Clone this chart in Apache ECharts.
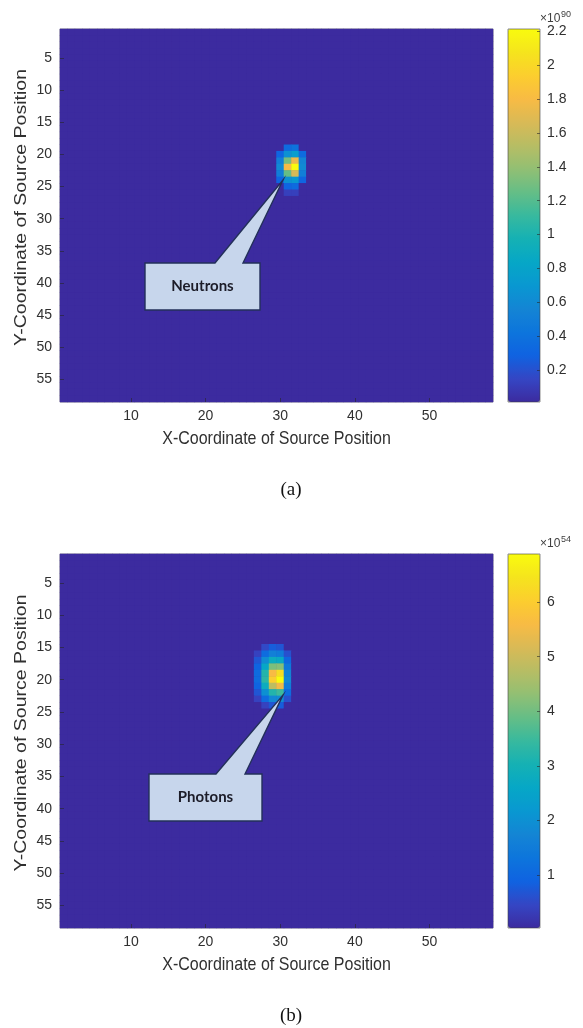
<!DOCTYPE html>
<html><head><meta charset="utf-8">
<script src="https://cdn.jsdelivr.net/npm/echarts@6/dist/echarts.min.js"></script>
<style>html,body{margin:0;padding:0;background:#fff;}#c{width:583px;height:1028px;}</style>
</head><body><div id="c"></div>
<script>
// ---------------- data ----------------
const gridSize = 58; // source positions per axis
const xTickLabels = [10, 20, 30, 40, 50];
const yTickLabels = [5, 10, 15, 20, 25, 30, 35, 40, 45, 50, 55];

// (a) Neutrons, values in units of 1e90
const neutronExponent = '90';
const neutronMin = 0.011;
const neutronMax = 2.214;
const neutronTicks = [0.2, 0.4, 0.6, 0.8, 1, 1.2, 1.4, 1.6, 1.8, 2, 2.2];
const neutronBackground = 0.011;
const neutronCells = [
  [31,19,0.35],[32,19,0.4],
  [30,20,0.3],[31,20,0.65],[32,20,0.75],[33,20,0.35],
  [30,21,0.5],[31,21,1.3],[32,21,1.75],[33,21,0.55],
  [30,22,0.6],[31,22,1.8],[32,22,2.214],[33,22,0.6],
  [30,23,0.5],[31,23,1.25],[32,23,1.65],[33,23,0.5],
  [30,24,0.3],[31,24,0.65],[32,24,0.7],[33,24,0.3],
  [31,25,0.3],[32,25,0.35],
  [31,26,0.12],[32,26,0.12]
];

// (b) Photons, values in units of 1e54
const photonExponent = '54';
const photonMin = 0.03;
const photonMax = 6.88;
const photonTicks = [1, 2, 3, 4, 5, 6];
const photonBackground = 0.03;
const photonCells = [
  [28,15,0.5],[29,15,0.8],[30,15,0.7],
  [27,16,0.4],[28,16,1.1],[29,16,1.6],[30,16,1.5],[31,16,0.6],
  [27,17,0.7],[28,17,1.9],[29,17,2.8],[30,17,2.7],[31,17,1.0],
  [27,18,0.9],[28,18,2.6],[29,18,4.1],[30,18,4.2],[31,18,1.4],
  [27,19,1.1],[28,19,3.2],[29,19,5.6],[30,19,6.3],[31,19,1.7],
  [27,20,1.1],[28,20,3.3],[29,20,6.0],[30,20,6.88],[31,20,1.8],
  [27,21,0.9],[28,21,2.8],[29,21,4.8],[30,21,5.5],[31,21,1.5],
  [27,22,0.7],[28,22,2.0],[29,22,3.2],[30,22,3.5],[31,22,1.1],
  [27,23,0.4],[28,23,1.1],[29,23,1.8],[30,23,1.9],[31,23,0.6],
  [28,24,0.4],[29,24,0.7],[30,24,0.8]
];

// parula colormap
const parula = ['#3c2b9f','#3546c4','#0f63e1','#0d75dc','#1485d4','#0998d1','#06a7c6','#15b1b4',
  '#38b99e','#65be86','#92bf73','#b7bd64','#d9ba56','#f8bb44','#fcce2e','#f5e41d','#f9fb0e'];

// ---------------- build ----------------
const cats = Array.from({length: gridSize}, (_, i) => String(i + 1));
function buildGrid(bg, cells) {
  const m = new Map(cells.map(c => [c[0] + ',' + c[1], c[2]]));
  const out = [];
  for (let y = 1; y <= gridSize; y++)
    for (let x = 1; x <= gridSize; x++)
      out.push([x - 1, y - 1, m.has(x + ',' + y) ? m.get(x + ',' + y) : bg]);
  return out;
}
const FONT = '"Liberation Sans", Arial, Helvetica, sans-serif';
const TXT = '#303030';
const BG = parula[0];

const P = [
  {top: 29, height: 373},
  {top: 554, height: 374}
];
const PL = 60, PW = 433, CBL = 508, CBW = 32;

function heatX(gi) {
  return {
    gridIndex: gi, type: 'category', data: cats, z: 10,
    axisLine: {show: false},
    axisTick: {show: true, inside: true, length: 4, alignWithLabel: true,
      interval: (i, v) => xTickLabels.includes(+v), lineStyle: {color: '#262626', width: 0.6}},
    axisLabel: {interval: (i, v) => xTickLabels.includes(+v), fontFamily: FONT, fontSize: 14, color: TXT, margin: 7},
    splitLine: {show: false}
  };
}
function heatY(gi) {
  return {
    gridIndex: gi, type: 'category', data: cats, inverse: true, z: 10,
    axisLine: {show: false},
    axisTick: {show: true, inside: true, length: 4, alignWithLabel: true,
      interval: (i, v) => yTickLabels.includes(+v), lineStyle: {color: '#262626', width: 0.6}},
    axisLabel: {interval: (i, v) => yTickLabels.includes(+v), fontFamily: FONT, fontSize: 14, color: TXT, margin: 8},
    splitLine: {show: false}
  };
}
function cbY(gi, mn, mx, ticks) {
  return {
    gridIndex: gi, type: 'value', position: 'right', min: mn, max: mx, z: 10,
    axisLine: {show: false, onZero: false},
    axisTick: {show: true, inside: true, length: 3, customValues: ticks, lineStyle: {color: '#262626', width: 0.6}},
    axisLabel: {customValues: ticks, formatter: v => String(+(+v).toFixed(2)), fontFamily: FONT, fontSize: 14, color: TXT, margin: 7},
    splitLine: {show: false}
  };
}

const chart = echarts.init(document.getElementById('c'), null, {renderer: 'canvas'});

const graphic = [];
function addPanel(i, exponent, caption, label, box, apex) {
  const top = P[i].top, h = P[i].height;
  // colorbar frame
  graphic.push({type: 'rect', z: 100, shape: {x: CBL, y: top, width: CBW, height: h},
    style: {fill: 'none', stroke: '#404040', lineWidth: 0.6}});
  // exponent
  graphic.push({type: 'text', z: 100, x: CBL + 32, y: top - 10,
    style: {text: '×10', fontFamily: FONT, fontSize: 12, fill: '#404040', align: 'left', verticalAlign: 'middle'}});
  graphic.push({type: 'text', z: 100, x: CBL + 53, y: top - 14,
    style: {text: exponent, fontFamily: FONT, fontSize: 9, fill: '#404040', align: 'left', verticalAlign: 'middle'}});
  // axis titles
  graphic.push({type: 'text', z: 100, x: PL + PW / 2, y: top + h + 37, scaleY: 1.12,
    style: {text: 'X-Coordinate of Source Position', fontFamily: FONT, fontSize: 16, fill: TXT, align: 'center', verticalAlign: 'middle'}});
  graphic.push({type: 'text', z: 100, x: 22, y: top + h / 2 - 8, rotation: Math.PI / 2, scaleX: 1.22,
    style: {text: 'Y-Coordinate of Source Position', fontFamily: FONT, fontSize: 16, fill: TXT, align: 'center', verticalAlign: 'middle'}});
  // caption
  graphic.push({type: 'text', z: 100, x: 291, y: top + h + 88,
    style: {text: caption, fontFamily: '"Liberation Serif", "Times New Roman", serif', fontSize: 19, fill: '#111', align: 'center', verticalAlign: 'middle'}});
  // callout
  const [bx, by, bw, bh, w1, w2] = box;
  graphic.push({type: 'polygon', z: 110, shape: {points: [
      [bx, by], [w1, by], apex, [w2, by], [bx + bw, by], [bx + bw, by + bh], [bx, by + bh]]},
    style: {fill: '#c7d6ec', stroke: '#23305a', lineWidth: 1.4, lineJoin: 'miter'}});
  graphic.push({type: 'text', z: 111, x: bx + bw / 2, y: by + bh / 2,
    style: {text: label, fontFamily: 'Lato, "Open Sans", sans-serif', fontWeight: 'bold', fontSize: 15, fill: '#1c1c28', align: 'center', verticalAlign: 'middle'}});
}
addPanel(0, neutronExponent, '(a)', 'Neutrons', [145, 263, 115, 47, 215, 243], [283, 180]);
addPanel(1, photonExponent, '(b)', 'Photons', [149, 774, 113, 47, 216, 245], [283, 695]);

chart.setOption({
  animation: false,
  backgroundColor: '#fff',
  grid: [
    {left: PL, top: P[0].top, width: PW, height: P[0].height, show: true, backgroundColor: BG, borderColor: '#262626', borderWidth: 0.5},
    {left: PL, top: P[1].top, width: PW, height: P[1].height, show: true, backgroundColor: BG, borderColor: '#262626', borderWidth: 0.5},
    {left: CBL, top: P[0].top, width: CBW, height: P[0].height, show: false},
    {left: CBL, top: P[1].top, width: CBW, height: P[1].height, show: false}
  ],
  xAxis: [heatX(0), heatX(1),
    {gridIndex: 2, type: 'value', show: false, min: 0, max: 1},
    {gridIndex: 3, type: 'value', show: false, min: 0, max: 1}],
  yAxis: [heatY(0), heatY(1),
    cbY(2, neutronMin, neutronMax, neutronTicks),
    cbY(3, photonMin, photonMax, photonTicks)],
  visualMap: [
    {type: 'continuous', seriesIndex: 0, min: neutronMin, max: neutronMax, calculable: false, orient: 'vertical',
      left: CBL, top: P[0].top, itemWidth: CBW, itemHeight: P[0].height, padding: 0, inRange: {color: parula}, hoverLink: false},
    {type: 'continuous', seriesIndex: 1, min: photonMin, max: photonMax, calculable: false, orient: 'vertical',
      left: CBL, top: P[1].top, itemWidth: CBW, itemHeight: P[1].height, padding: 0, inRange: {color: parula}, hoverLink: false}
  ],
  series: [
    {type: 'heatmap', xAxisIndex: 0, yAxisIndex: 0, data: buildGrid(neutronBackground, neutronCells), progressive: 0, emphasis: {disabled: true}},
    {type: 'heatmap', xAxisIndex: 1, yAxisIndex: 1, data: buildGrid(photonBackground, photonCells), progressive: 0, emphasis: {disabled: true}}
  ],
  graphic: graphic
});
</script></body></html>
